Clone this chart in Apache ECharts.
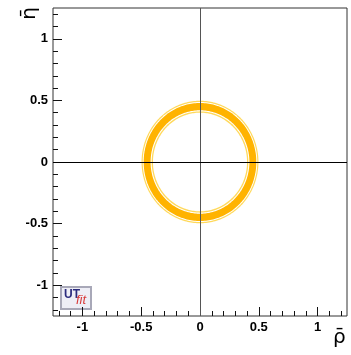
<!DOCTYPE html>
<html>
<head>
<meta charset="utf-8">
<script src="https://cdn.jsdelivr.net/npm/echarts@6/dist/echarts.min.js"></script>
<style>
  html, body { margin: 0; padding: 0; background: #fff; }
  #chart { width: 351px; height: 355px; }
</style>
</head>
<body>
<div id="chart"></div>
<script>
// Allowed region in the (rho-bar, eta-bar) plane: a ring around the origin.
const ringCenter = [0, 0];
// Contour radii, outermost first (95% edge, 68% band, 95% inner edge)
const contourRadii = [0.497, 0.487, 0.479, 0.420, 0.411, 0.400];
const contourFills = ['#ffd95a', '#ffffff', '#ffb300', '#ffffff', '#ffd95a', '#ffffff'];

// Axis ticks
const axisMin = -1.25;
const axisMax = 1.25;
const majorTicks = [-1, -0.5, 0, 0.5, 1];
const minorTicks = [-1.2, -1.1, -0.9, -0.8, -0.7, -0.6, -0.4, -0.3, -0.2, -0.1,
                    0.1, 0.2, 0.3, 0.4, 0.6, 0.7, 0.8, 0.9, 1.1, 1.2];

const chart = echarts.init(document.getElementById('chart'));

const labelStyle = {
  color: '#000',
  fontFamily: 'Liberation Sans, Arial, sans-serif',
  fontWeight: 'bold',
  fontSize: 13
};

function majorAxis(extra) {
  return Object.assign({
    type: 'value', min: axisMin, max: axisMax,
    axisLine: { show: false, onZero: false },
    splitLine: { show: false },
    axisTick: { show: true, inside: true, length: 9, customValues: majorTicks,
                lineStyle: { color: '#111', width: 1 } },
    axisLabel: Object.assign({ customValues: majorTicks, margin: 5 }, labelStyle)
  }, extra);
}
function minorAxis(extra) {
  return Object.assign({
    type: 'value', min: axisMin, max: axisMax,
    axisLine: { show: false, onZero: false },
    splitLine: { show: false },
    axisTick: { show: true, inside: true, length: 5, customValues: minorTicks,
                lineStyle: { color: '#111', width: 1 } },
    axisLabel: { show: false }
  }, extra);
}

chart.setOption({
  animation: false,
  backgroundColor: '#fff',
  grid: {
    left: 53, right: 4, top: 8, bottom: 39,
    show: true, borderColor: '#333', borderWidth: 1, backgroundColor: 'transparent'
  },
  xAxis: [
    majorAxis({ position: 'bottom' }),
    minorAxis({ position: 'bottom' })
  ],
  yAxis: [
    majorAxis({ position: 'left' }),
    minorAxis({ position: 'left' })
  ],
  series: [
    {
      type: 'custom',
      coordinateSystem: 'cartesian2d',
      xAxisIndex: 0, yAxisIndex: 0,
      silent: true,
      z: 2,
      data: contourRadii.map((r) => [ringCenter[0], ringCenter[1], r]),
      renderItem: function (params, api) {
        const cx = api.value(0), cy = api.value(1), r = api.value(2);
        const pts = [];
        const n = 240;
        for (let k = 0; k < n; k++) {
          const t = 2 * Math.PI * k / n;
          pts.push(api.coord([cx + r * Math.cos(t), cy + r * Math.sin(t)]));
        }
        return {
          type: 'polygon',
          shape: { points: pts },
          style: { fill: contourFills[params.dataIndex], stroke: null }
        };
      }
    },
    {
      // zero lines drawn over the contours
      type: 'line',
      xAxisIndex: 0, yAxisIndex: 0,
      data: [],
      z: 5,
      markLine: {
        silent: true,
        symbol: 'none',
        label: { show: false },
        animation: false,
        data: [
          { xAxis: 0, lineStyle: { color: '#555', width: 1, type: 'solid' } },
          { yAxis: 0, lineStyle: { color: '#000', width: 1, type: 'solid' } }
        ]
      }
    }
  ],
  graphic: [
    {
      type: 'text',
      left: 20, top: 7,
      rotation: Math.PI / 2,
      style: { text: 'η\u0304', fill: '#000', font: '20px "DejaVu Sans", sans-serif' }
    },
    {
      type: 'text',
      left: 333, top: 328,
      style: { text: 'ρ\u0304', fill: '#000', font: '20px "DejaVu Sans", sans-serif' }
    },
    {
      type: 'group',
      left: 60, top: 286,
      children: [
        { type: 'rect', shape: { x: 0, y: 0, width: 30, height: 22 },
          style: { fill: '#eeeef6', stroke: '#a8a8b8', lineWidth: 2 } },
        { type: 'text', x: 3, y: 2,
          style: { text: 'UT', fill: '#2b2b7d', font: 'bold 12px "Liberation Sans", Arial, sans-serif' } },
        { type: 'text', x: 15, y: 7,
          style: { text: 'fit', fill: '#d83a3a', font: 'italic 13px "Liberation Sans", Arial, sans-serif' } }
      ]
    }
  ]
});
</script>
</body>
</html>
